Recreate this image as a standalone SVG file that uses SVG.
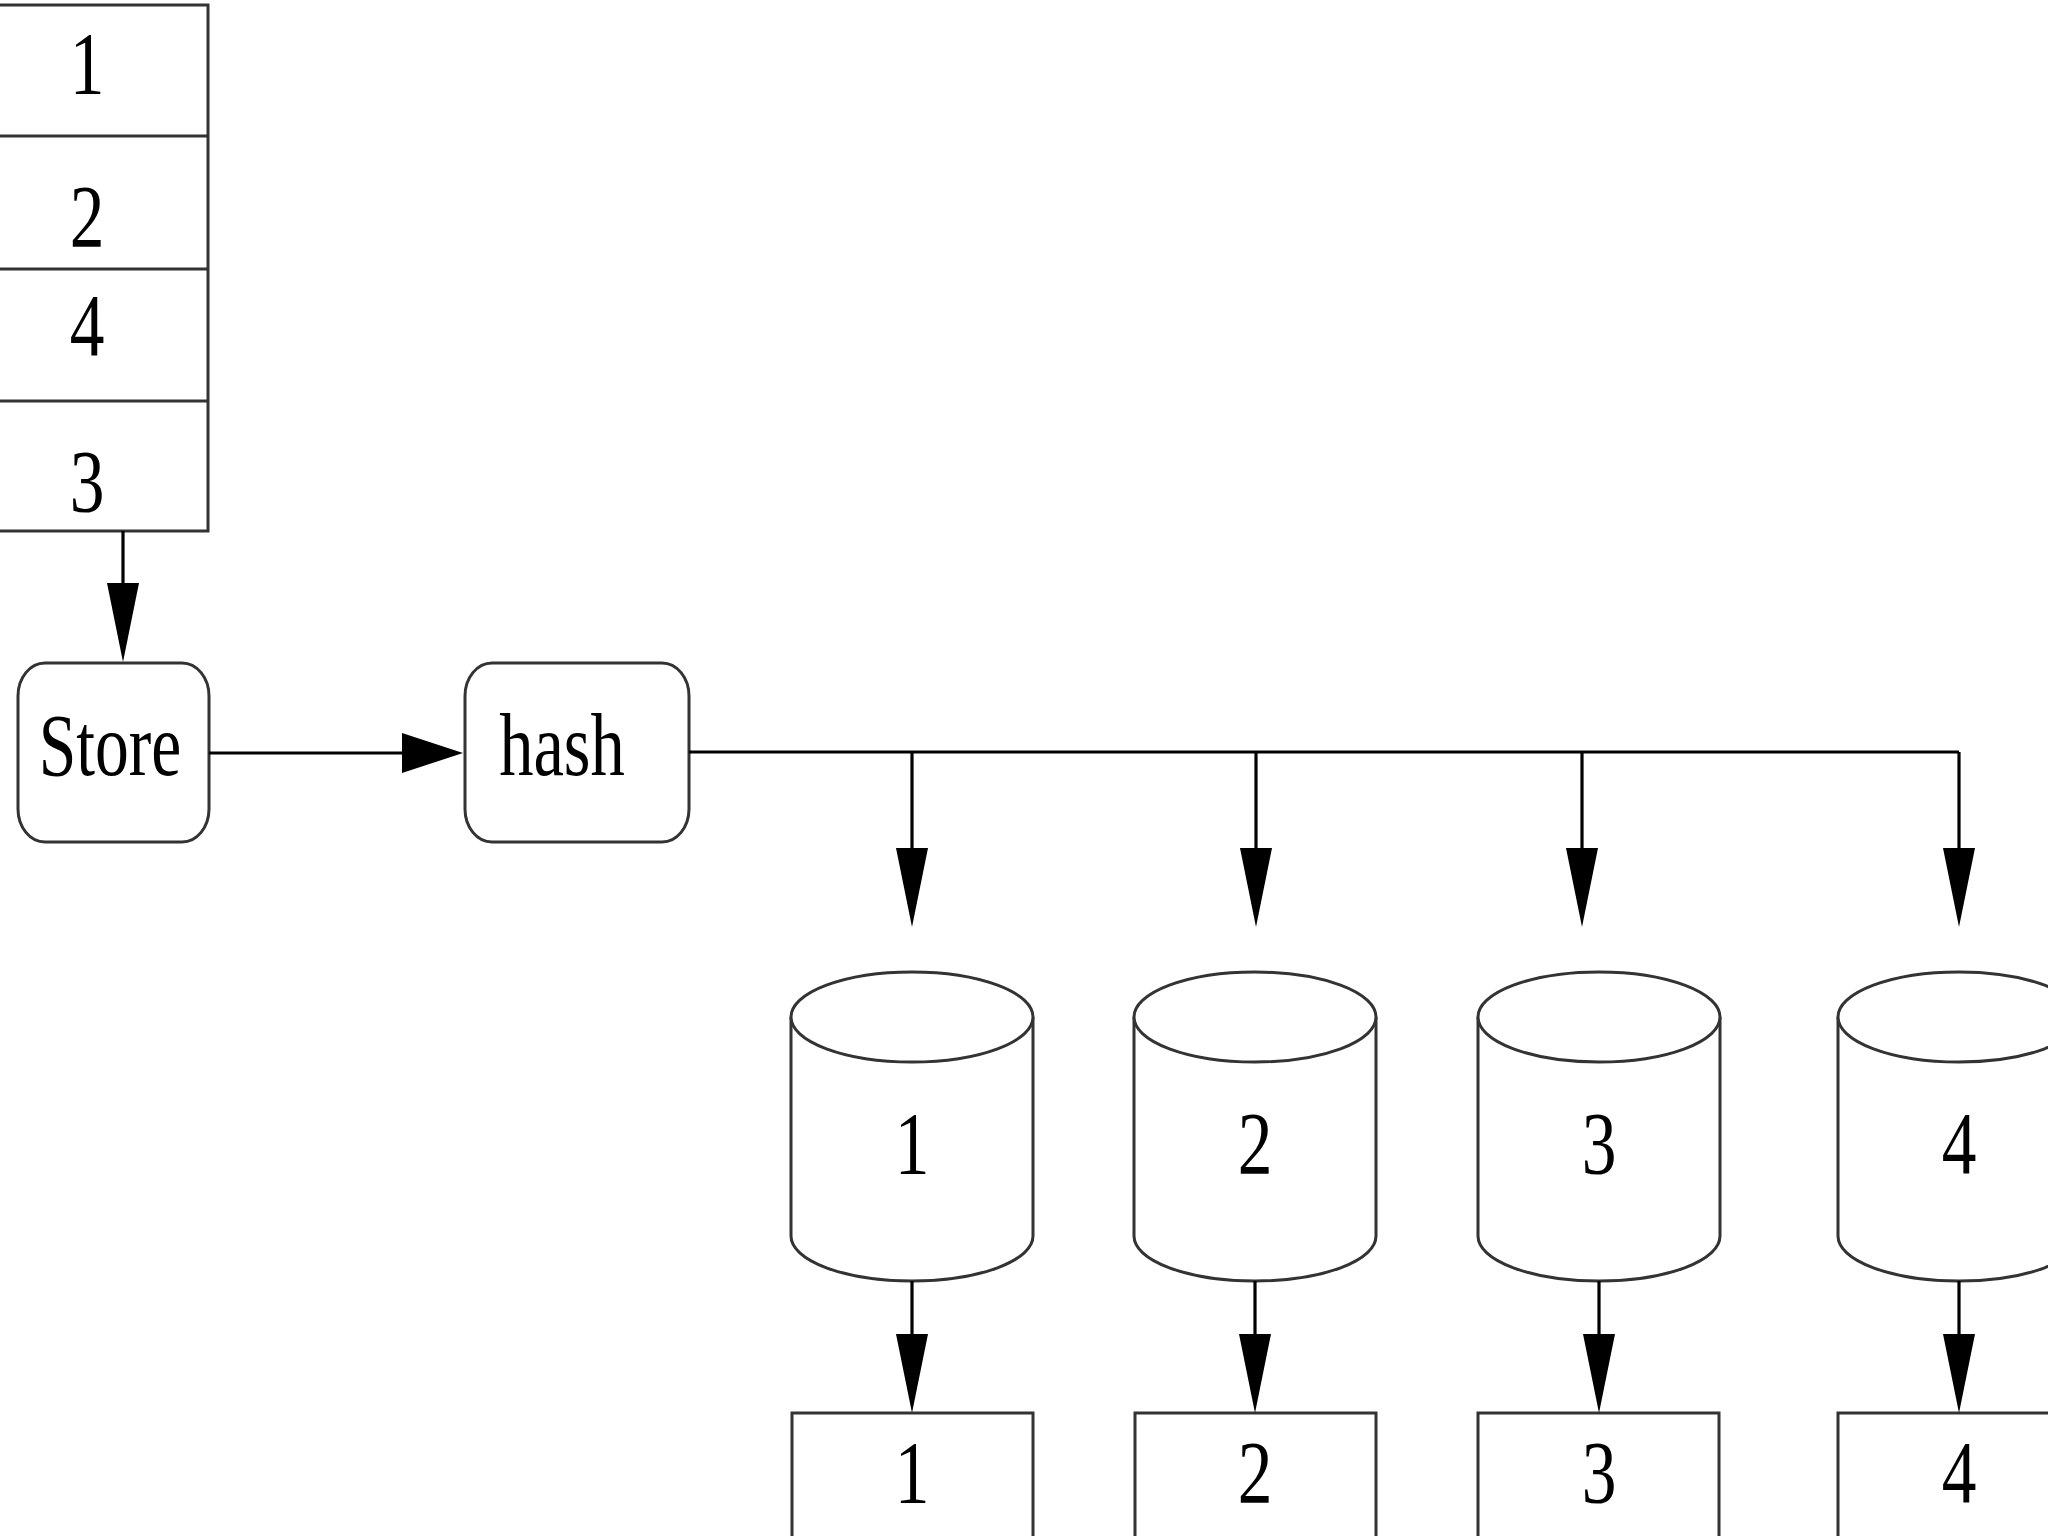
<svg xmlns="http://www.w3.org/2000/svg" width="2048" height="1536" viewBox="0 0 2048 1536">
<style>
.shape{fill:#fff;stroke:#333;stroke-width:3}
.edge{fill:none;stroke:#000;stroke-width:3.2}
.lbl{font-family:"Liberation Serif","Times New Roman",serif;font-size:89px;fill:#000;text-anchor:middle}
</style>
<defs>
<marker id="headDown" markerUnits="userSpaceOnUse" viewBox="0 0 79 32" markerWidth="79" markerHeight="32" refX="0" refY="16" orient="auto">
<path d="M0,0 L79,16 L0,32 Z" fill="#000"/>
</marker>
<marker id="headRight" markerUnits="userSpaceOnUse" viewBox="0 0 61 40" markerWidth="61" markerHeight="40" refX="0" refY="20" orient="auto">
<path d="M0,0 L61,20 L0,40 Z" fill="#000"/>
</marker>
</defs>
<rect width="2048" height="1536" fill="#fff"/>

<g id="queue">
<rect class="shape" x="-40" y="5" width="248" height="526"/>
<line class="shape" x1="-40" y1="136" x2="208" y2="136"/>
<line class="shape" x1="-40" y1="269" x2="208" y2="269"/>
<line class="shape" x1="-40" y1="401" x2="208" y2="401"/>
<text class="lbl" transform="translate(87,93) scale(0.78,1)">1</text>
<text class="lbl" transform="translate(87,246) scale(0.78,1)">2</text>
<text class="lbl" transform="translate(87,355) scale(0.78,1)">4</text>
<text class="lbl" transform="translate(87,511) scale(0.78,1)">3</text>
</g>

<g id="store">
<rect class="shape" x="18" y="663" width="191" height="179" rx="27" ry="33"/>
<text class="lbl" transform="translate(110,775) scale(0.76,1)">Store</text>
</g>

<g id="hash">
<rect class="shape" x="465" y="663" width="224" height="179" rx="27" ry="33"/>
<text class="lbl" transform="translate(562,775) scale(0.77,1)">hash</text>
</g>

<g id="db1">
<path class="shape" d="M791,1017 L791,1236 A121,45 0 0 0 1033,1236 L1033,1017"/>
<ellipse class="shape" cx="912" cy="1017" rx="121" ry="45"/>
<text class="lbl" transform="translate(912,1173) scale(0.78,1)">1</text>
</g>
<g id="db2">
<path class="shape" d="M1134,1017 L1134,1236 A121,45 0 0 0 1376,1236 L1376,1017"/>
<ellipse class="shape" cx="1255" cy="1017" rx="121" ry="45"/>
<text class="lbl" transform="translate(1255,1173) scale(0.78,1)">2</text>
</g>
<g id="db3">
<path class="shape" d="M1478,1017 L1478,1236 A121,45 0 0 0 1720,1236 L1720,1017"/>
<ellipse class="shape" cx="1599" cy="1017" rx="121" ry="45"/>
<text class="lbl" transform="translate(1599,1173) scale(0.78,1)">3</text>
</g>
<g id="db4">
<path class="shape" d="M1838,1017 L1838,1236 A121,45 0 0 0 2080,1236 L2080,1017"/>
<ellipse class="shape" cx="1959" cy="1017" rx="121" ry="45"/>
<text class="lbl" transform="translate(1959,1173) scale(0.78,1)">4</text>
</g>

<g id="out1">
<rect class="shape" x="792" y="1413" width="241" height="200"/>
<text class="lbl" transform="translate(912,1502) scale(0.78,1)">1</text>
</g>
<g id="out2">
<rect class="shape" x="1135" y="1413" width="241" height="200"/>
<text class="lbl" transform="translate(1255,1502) scale(0.78,1)">2</text>
</g>
<g id="out3">
<rect class="shape" x="1478" y="1413" width="241" height="200"/>
<text class="lbl" transform="translate(1599,1502) scale(0.78,1)">3</text>
</g>
<g id="out4">
<rect class="shape" x="1838" y="1413" width="241" height="200"/>
<text class="lbl" transform="translate(1959,1502) scale(0.78,1)">4</text>
</g>

<g id="connectors">
<path class="edge" d="M123,531 L123,583" marker-end="url(#headDown)"/>
<path class="edge" d="M209,753 L402,753" marker-end="url(#headRight)"/>
<path class="edge" d="M689,752 L1959,752"/>
<path class="edge" d="M912,752 L912,848" marker-end="url(#headDown)"/>
<path class="edge" d="M1256,752 L1256,848" marker-end="url(#headDown)"/>
<path class="edge" d="M1582,752 L1582,848" marker-end="url(#headDown)"/>
<path class="edge" d="M1959,752 L1959,848" marker-end="url(#headDown)"/>
<path class="edge" d="M912,1281 L912,1334" marker-end="url(#headDown)"/>
<path class="edge" d="M1255,1281 L1255,1334" marker-end="url(#headDown)"/>
<path class="edge" d="M1599,1281 L1599,1334" marker-end="url(#headDown)"/>
<path class="edge" d="M1959,1281 L1959,1334" marker-end="url(#headDown)"/>
</g>
</svg>
